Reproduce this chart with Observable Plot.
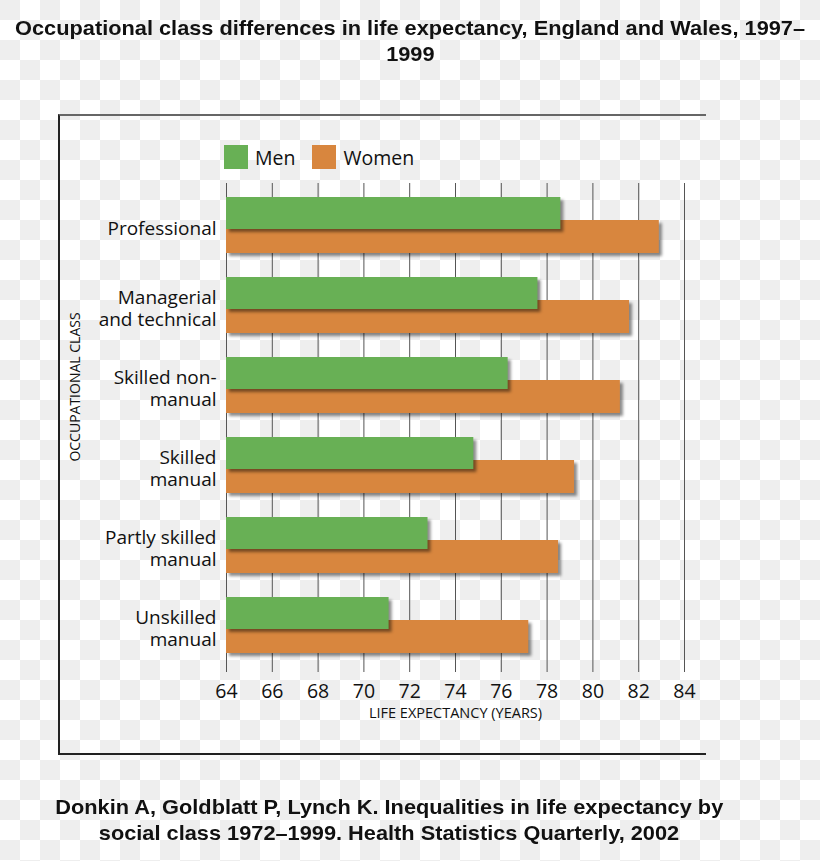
<!DOCTYPE html>
<html>
<head>
<meta charset="utf-8">
<script src="https://cdn.jsdelivr.net/npm/d3@7"></script>
<script src="https://cdn.jsdelivr.net/npm/@observablehq/plot@0.6"></script>
<style>
  html, body { margin: 0; padding: 0; }
  body {
    width: 820px; height: 861px; overflow: hidden; position: relative;
    background: repeating-conic-gradient(#fff 0 25%, #eeeeee 0 50%) 0 0 / 40px 40px;
    font-family: "Open Sans", sans-serif;
  }
  .heading {
    position: absolute; left: 0; width: 820px; text-align: center;
    font-family: "Liberation Sans", Arial, sans-serif;
    font-weight: bold; font-size: 21px; line-height: 26px; color: #111;
  }
  .heading .line { display: block; white-space: nowrap; }
  .heading .line span { display: inline-block; transform-origin: 50% 50%; }
  #title { top: 15px; }
  #caption { top: 794px; width: 778px; line-height: 26px; }
  #frame {
    position: absolute; left: 58px; top: 114px; width: 646px; height: 637px;
    border-left: 2px solid #222; border-top: 2px solid #666; border-bottom: 2px solid #222;
  }
  #chart { position: absolute; left: 0; top: 0; }
  #legend { position: absolute; left: 224px; top: 143px; display: flex; align-items: center; font-size: 19.5px; color: #111; }
  #legend .sw { width: 24px; height: 24px; display: inline-block; }
  #legend .item { display: flex; align-items: center; margin-right: 17px; }
  #legend .lab { margin-left: 7px; position: relative; top: 1px; }
</style>
</head>
<body>
<div id="frame"></div>
<div id="chart"></div>
<div id="title" class="heading"></div>
<div id="legend"></div>
<div id="caption" class="heading"></div>
<script>
const titleLines = ["Occupational class differences in life expectancy, England and Wales, 1997–", "1999"];
const captionLines = ["Donkin A, Goldblatt P, Lynch K. Inequalities in life expectancy by", "social class 1972–1999. Health Statistics Quarterly, 2002"];
const categories = ["Professional", "Managerial and technical", "Skilled non-manual", "Skilled manual", "Partly skilled manual", "Unskilled manual"];
const categoryLabels = ["Professional", "Managerial\nand technical", "Skilled non-\nmanual", "Skilled\nmanual", "Partly skilled\nmanual", "Unskilled\nmanual"];
const menValues = [78.6, 77.6, 76.3, 74.8, 72.8, 71.1];
const womenValues = [82.9, 81.6, 81.2, 79.2, 78.5, 77.2];
const seriesNames = ["Men", "Women"];
const seriesColors = ["#68b055", "#d8863e"];
const xTicks = [64, 66, 68, 70, 72, 74, 76, 78, 80, 82, 84];
const xLabel = "LIFE EXPECTANCY (YEARS)";
const yLabel = "OCCUPATIONAL CLASS";

const men = categories.map((c, i) => ({category: c, value: menValues[i]}));
const women = categories.map((c, i) => ({category: c, value: womenValues[i]}));
const labelOf = new Map(categories.map((c, i) => [c, categoryLabels[i]]));
const xMin = xTicks[0];

const chart = Plot.plot({
  width: 820,
  height: 861,
  marginLeft: 226,
  marginRight: 136,
  marginTop: 183,
  marginBottom: 189,
  style: {fontFamily: "Open Sans, sans-serif", background: "transparent", color: "#111"},
  x: {domain: [xTicks[0], xTicks[xTicks.length - 1]]},
  y: {domain: categories, range: [195, 654], paddingInner: 0.305, paddingOuter: 0},
  marks: [
    Plot.ruleX(xTicks, {stroke: "#555", strokeWidth: 1}),
    Plot.barX(women, {x1: () => xMin, x2: "value", y: "category", fill: seriesColors[1], insetTop: 23}),
    Plot.barX(men, {x1: () => xMin, x2: "value", y: "category", fill: seriesColors[0], insetBottom: 24}),
    Plot.axisX({anchor: "bottom", ticks: xTicks, tickSize: 0, tickPadding: 12, fontSize: 19.5, label: null, tickFormat: d => String(d)}),
    Plot.axisY({anchor: "left", tickSize: 0, tickPadding: 10, fontSize: 19, lineHeight: 1.16, dy: 2, label: null, tickFormat: d => labelOf.get(d)}),
    Plot.text([xLabel], {frameAnchor: "bottom", dy: 45, fontSize: 14.5, text: d => d}),
    Plot.text([yLabel], {frameAnchor: "left", textAnchor: "middle", dx: -151, dy: -41, rotate: -90, fontSize: 14, text: d => d})
  ]
});
document.getElementById("chart").appendChild(chart);
d3.select(chart).selectAll('g[aria-label="bar"]').style("filter", "drop-shadow(3px 3px 1.5px rgba(0,0,0,0.45))");

const legend = d3.select("#legend");
seriesNames.forEach((name, i) => {
  const item = legend.append("div").attr("class", "item");
  item.append("span").attr("class", "sw").style("background", seriesColors[i]);
  item.append("span").attr("class", "lab").text(name);
});

// headings: condensed to the reference's line widths
function heading(id, lines, firstLineWidth) {
  const box = d3.select("#" + id);
  const spans = lines.map(t => box.append("div").attr("class", "line").append("span").text(t));
  const w = spans[0].node().getBoundingClientRect().width;
  const s = firstLineWidth / w;
  spans.forEach(sp => sp.style("transform", `scaleX(${s})`));
}
heading("title", titleLines, 790);
heading("caption", captionLines, 668);
</script>
</body>
</html>
